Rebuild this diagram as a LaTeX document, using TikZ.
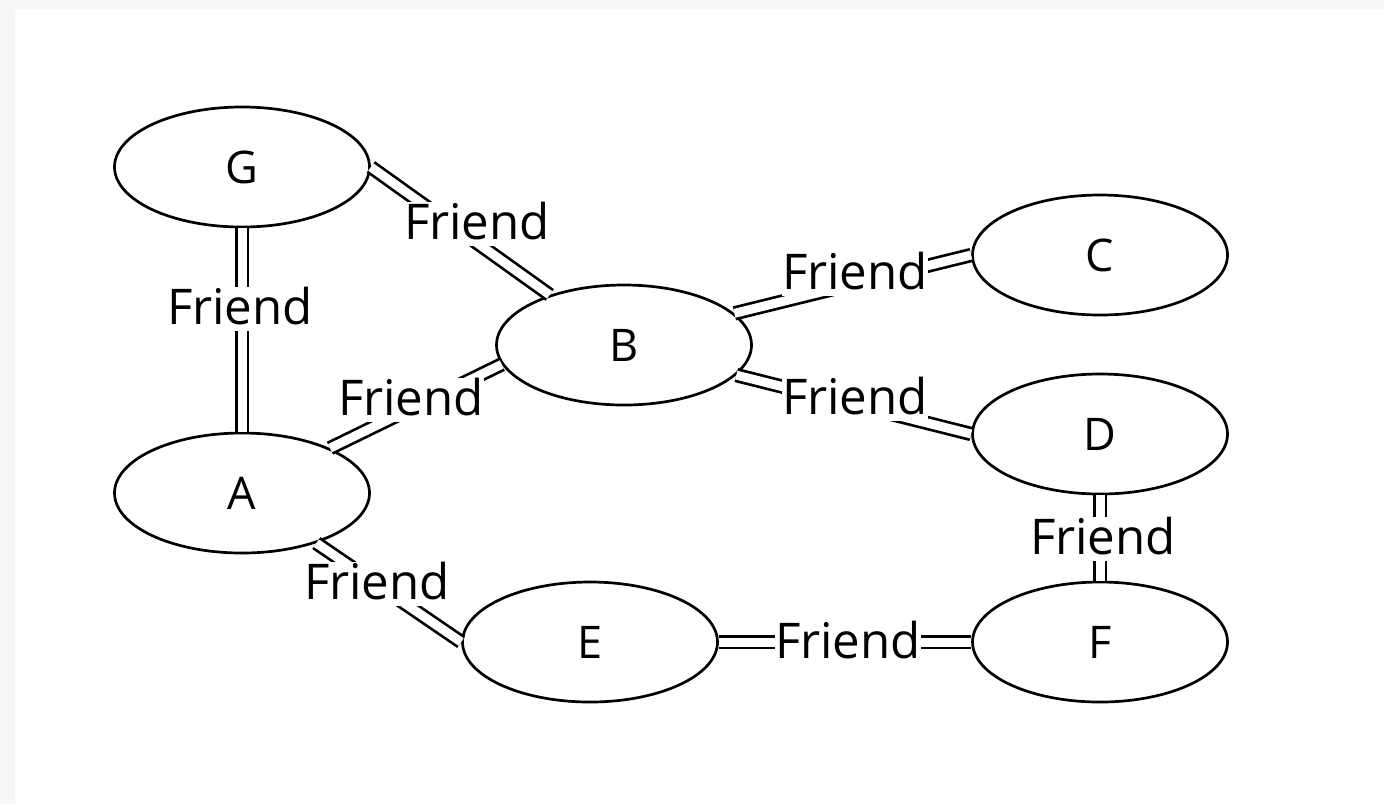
\documentclass[tikz,border=0pt]{standalone}
\usepackage{fontspec}
\setmainfont{Open Sans}
\usepackage{xcolor}
\usepackage{tikz}
\usetikzlibrary{shapes.geometric}

\begin{document}
\begin{tikzpicture}[
    person/.style={draw, ellipse, line width=0.27mm, minimum width=2.55cm, minimum height=1.2cm, inner sep=0pt, font=\fontsize{12.8}{15}\selectfont},
    friend/.style={double, double distance=0.9mm, line width=0.27mm},
    lbl/.style={fill=white, inner sep=0pt, text depth=0.6mm, font=\fontsize{14}{17}\selectfont}
]
    % 背景
    \fill[black!3] (0, 0) rectangle (13.84, 8.04);
    \fill[white] (0.15, 0) rectangle (13.84, 7.95);
    \useasboundingbox (0, 0) rectangle (13.84, 8.04);

    % 节点
    \node[person] (G) at (2.42, 6.37) {G};
    \node[person] (B) at (6.24, 4.59) {B};
    \node[person] (C) at (11.0, 5.49) {C};
    \node[person] (D) at (11.0, 3.70) {D};
    \node[person] (A) at (2.42, 3.11) {A};
    \node[person] (E) at (5.90, 1.62) {E};
    \node[person] (F) at (11.0, 1.62) {F};

    % 连线
    \draw[friend] (G.south) -- (A.north);
    \draw[friend] (G.east) -- (B.146);
    \draw[friend] (B.16) -- (C.west);
    \draw[friend] (B.-15) -- (D.west);
    \draw[friend] (A.27) -- (B.189);
    \draw[friend] (A.-34) -- (E.west);
    \draw[friend] (E.east) -- (F.west);
    \draw[friend] (D.south) -- (F.north);

    % 标签
    \node[lbl] (GA) at (2.40, 4.95) {Friend};
    \node[lbl] (GB) at (4.77, 5.80) {Friend};
    \node[lbl] (BC) at (8.55, 5.30) {Friend};
    \node[lbl] (BD) at (8.55, 4.05) {Friend};
    \node[lbl] (AB) at (4.11, 4.04) {Friend};
    \node[lbl] (AE) at (3.77, 2.20) {Friend};
    \node[lbl] (EF) at (8.48, 1.61) {Friend};
    \node[lbl] (DF) at (11.03, 2.65) {Friend};
\end{tikzpicture}
\end{document}
